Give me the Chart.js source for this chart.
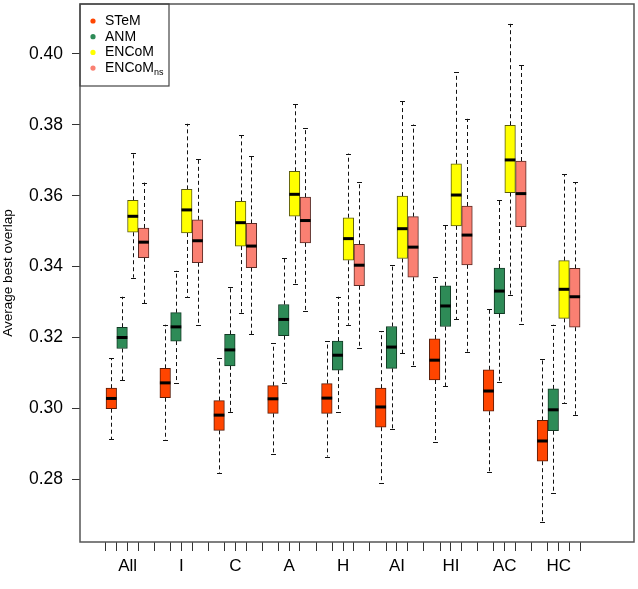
<!DOCTYPE html>
<html>
<head>
<meta charset="utf-8">
<title>Average best overlap</title>
<script src="https://cdn.jsdelivr.net/npm/chart.js@4.4.0/dist/chart.umd.min.js"></script>
<style>
  body { margin: 0; background: #fff; }
  canvas { display: block; }
</style>
</head>
<body>
<canvas id="grafico" width="638" height="589"></canvas>
<script>
// categories and tick labels
const grupos = ['All', 'I', 'C', 'A', 'H', 'AI', 'HI', 'AC', 'HC'];
const series = ['STeM', 'ANM', 'ENCoM', 'ENCoMns'];
const yTicks = [0.28, 0.30, 0.32, 0.34, 0.36, 0.38, 0.40];

// STeM
const stemLow  = [0.2913, 0.2911, 0.2818, 0.2872, 0.2864, 0.2790, 0.2905, 0.2820, 0.2679];
const stemQ1   = [0.2999, 0.3030, 0.2938, 0.2986, 0.2986, 0.2947, 0.3080, 0.2992, 0.2851];
const stemMed  = [0.3028, 0.3072, 0.2981, 0.3027, 0.3029, 0.3004, 0.3136, 0.3049, 0.2908];
const stemQ3   = [0.3057, 0.3113, 0.3022, 0.3064, 0.3070, 0.3057, 0.3196, 0.3109, 0.2966];
const stemHigh = [0.3142, 0.3236, 0.3142, 0.3184, 0.3190, 0.3218, 0.3370, 0.3281, 0.3140];

// ANM
const anmLow  = [0.3080, 0.3071, 0.2989, 0.3073, 0.2989, 0.2943, 0.3063, 0.3074, 0.2760];
const anmQ1   = [0.3169, 0.3190, 0.3120, 0.3205, 0.3108, 0.3113, 0.3231, 0.3267, 0.2937];
const anmMed  = [0.3200, 0.3230, 0.3165, 0.3251, 0.3150, 0.3173, 0.3289, 0.3331, 0.2996];
const anmQ3   = [0.3229, 0.3270, 0.3209, 0.3293, 0.3190, 0.3231, 0.3346, 0.3396, 0.3055];
const anmHigh = [0.3315, 0.3389, 0.3342, 0.3425, 0.3315, 0.3405, 0.3518, 0.3588, 0.3236];

// ENCoM
const encomLow  = [0.3369, 0.3315, 0.3270, 0.3352, 0.3236, 0.3156, 0.3252, 0.3321, 0.3014];
const encomQ1   = [0.3497, 0.3495, 0.3458, 0.3542, 0.3418, 0.3423, 0.3515, 0.3609, 0.3254];
const encomMed  = [0.3542, 0.3560, 0.3524, 0.3604, 0.3479, 0.3507, 0.3602, 0.3701, 0.3336];
const encomQ3   = [0.3587, 0.3618, 0.3584, 0.3669, 0.3538, 0.3599, 0.3690, 0.3799, 0.3417];
const encomHigh = [0.3721, 0.3803, 0.3771, 0.3858, 0.3719, 0.3867, 0.3948, 0.4085, 0.3661];

// ENCoM ns
const nsLow  = [0.3297, 0.3234, 0.3210, 0.3275, 0.3170, 0.3119, 0.3160, 0.3239, 0.2982];
const nsQ1   = [0.3425, 0.3411, 0.3397, 0.3467, 0.3346, 0.3370, 0.3405, 0.3513, 0.3229];
const nsMed  = [0.3469, 0.3473, 0.3458, 0.3530, 0.3404, 0.3455, 0.3489, 0.3606, 0.3315];
const nsQ3   = [0.3509, 0.3532, 0.3522, 0.3596, 0.3463, 0.3541, 0.3571, 0.3698, 0.3395];
const nsHigh = [0.3637, 0.3704, 0.3712, 0.3790, 0.3640, 0.3801, 0.3817, 0.3969, 0.3638];

const cajas = [
  { low: stemLow, q1: stemQ1, med: stemMed, q3: stemQ3, high: stemHigh },
  { low: anmLow, q1: anmQ1, med: anmMed, q3: anmQ3, high: anmHigh },
  { low: encomLow, q1: encomQ1, med: encomMed, q3: encomQ3, high: encomHigh },
  { low: nsLow, q1: nsQ1, med: nsMed, q3: nsQ3, high: nsHigh }
];
const colores = ['#FF4500', '#2E8B57', '#FFFF00', '#FA8072'];
const bordes = ['#5a1c08', '#123a24', '#5a5a10', '#5a2a24'];

// box s of group g sits at 1 + 5g + s (R boxplot style, gap between groups)
const posicion = (g, s) => 1 + 5 * g + s;
const FUENTE = '"Liberation Sans", Arial, sans-serif';

const datasets = series.map((nombre, s) => ({
  label: nombre,
  data: grupos.map((_, g) => ({ x: posicion(g, s), y: [cajas[s].q1[g], cajas[s].q3[g]] })),
  backgroundColor: colores[s],
  borderColor: bordes[s],
  borderWidth: 1,
  borderSkipped: false,
  grouped: false,
  barThickness: 10.6
}));

// whiskers before the boxes, medians after
const bigotes = {
  id: 'bigotes',
  beforeDatasetsDraw(chart) {
    const ctx = chart.ctx;
    const y = chart.scales.y;
    ctx.save();
    ctx.strokeStyle = '#111';
    ctx.lineWidth = 1;
    chart.data.datasets.forEach((ds, s) => {
      const meta = chart.getDatasetMeta(s);
      meta.data.forEach((bar, g) => {
        const x = Math.round(bar.x) + 0.5;
        const pares = [[cajas[s].q3[g], cajas[s].high[g]], [cajas[s].q1[g], cajas[s].low[g]]];
        pares.forEach(([a, b]) => {
          ctx.setLineDash([4, 3]);
          ctx.beginPath();
          ctx.moveTo(x, y.getPixelForValue(a));
          ctx.lineTo(x, y.getPixelForValue(b));
          ctx.stroke();
          ctx.setLineDash([]);
          const yb = Math.round(y.getPixelForValue(b)) + 0.5;
          ctx.beginPath();
          ctx.moveTo(x - 2.5, yb);
          ctx.lineTo(x + 2.5, yb);
          ctx.stroke();
        });
      });
    });
    ctx.restore();
  },
  afterDatasetsDraw(chart) {
    const ctx = chart.ctx;
    const y = chart.scales.y;
    ctx.save();
    ctx.strokeStyle = '#000';
    ctx.lineWidth = 3;
    chart.data.datasets.forEach((ds, s) => {
      const meta = chart.getDatasetMeta(s);
      meta.data.forEach((bar, g) => {
        const ym = y.getPixelForValue(cajas[s].med[g]);
        ctx.beginPath();
        ctx.moveTo(bar.x - bar.width / 2, ym);
        ctx.lineTo(bar.x + bar.width / 2, ym);
        ctx.stroke();
      });
    });
    ctx.restore();
  }
};

// frame round the plot and the legend box in its top left corner
const marco = {
  id: 'marco',
  afterDraw(chart) {
    const { ctx, chartArea: a } = chart;
    ctx.save();
    ctx.strokeStyle = '#555';
    ctx.lineWidth = 1.5;
    ctx.strokeRect(a.left, a.top, a.right - a.left, a.bottom - a.top);

    const x0 = a.left, y0 = a.top;
    ctx.lineWidth = 1.2;
    ctx.strokeStyle = '#444';
    ctx.strokeRect(x0, y0, 89, 82);
    ctx.textBaseline = 'middle';
    series.forEach((nombre, s) => {
      const yy = y0 + 17 + s * 15.7;
      ctx.fillStyle = colores[s];
      ctx.beginPath();
      ctx.arc(x0 + 13, yy, 2.6, 0, Math.PI * 2);
      ctx.fill();
      ctx.fillStyle = '#000';
      ctx.font = '14px ' + FUENTE;
      if (nombre === 'ENCoMns') {
        ctx.fillText('ENCoM', x0 + 25, yy);
        const w = ctx.measureText('ENCoM').width;
        ctx.font = '9px ' + FUENTE;
        ctx.fillText('ns', x0 + 25 + w, yy + 4);
      } else {
        ctx.fillText(nombre, x0 + 25, yy);
      }
    });
    ctx.restore();
  }
};

const ctx = document.getElementById('grafico').getContext('2d');

new Chart(ctx, {
  type: 'bar',
  data: { datasets: datasets },
  options: {
    responsive: false,
    animation: false,
    devicePixelRatio: 1,
    layout: { padding: { top: 4, right: 4, left: 0, bottom: 0 } },
    plugins: {
      legend: { display: false },
      tooltip: { enabled: false },
      title: { display: false }
    },
    scales: {
      x: {
        type: 'linear',
        min: -1.19,
        max: 48.78,
        afterBuildTicks(scale) {
          const t = [];
          grupos.forEach((_, g) => series.forEach((__, s) => t.push({ value: posicion(g, s) })));
          scale.ticks = t;
        },
        afterFit(scale) {
          scale.height = 47;
          scale.paddingLeft = 0;
          scale.paddingRight = 0;
        },
        border: { display: false },
        grid: { drawOnChartArea: false, drawTicks: true, tickLength: 9, color: '#333', lineWidth: 1 },
        ticks: {
          autoSkip: false,
          maxRotation: 0,
          padding: 5,
          labelOffset: 5.5,
          color: '#000',
          font: { family: FUENTE, size: 17 },
          callback(value, index) {
            return index % 4 === 1 ? grupos[Math.floor(index / 4)] : '';
          }
        }
      },
      y: {
        min: 0.2623,
        max: 0.4141,
        afterBuildTicks(scale) {
          scale.ticks = yTicks.map(v => ({ value: v }));
        },
        afterFit(scale) {
          scale.width = 80;
          scale.paddingTop = 0;
          scale.paddingBottom = 0;
        },
        border: { display: false },
        grid: { drawOnChartArea: false, drawTicks: true, tickLength: 8, color: '#333', lineWidth: 1 },
        ticks: {
          padding: 9,
          color: '#000',
          font: { family: FUENTE, size: 17.5 },
          callback: v => v.toFixed(2)
        },
        title: {
          display: true,
          text: 'Average best overlap',
          color: '#000',
          padding: { top: 0, bottom: 0 },
          font: { family: FUENTE, size: 13.5 }
        }
      }
    }
  },
  plugins: [bigotes, marco]
});
</script>
</body>
</html>
